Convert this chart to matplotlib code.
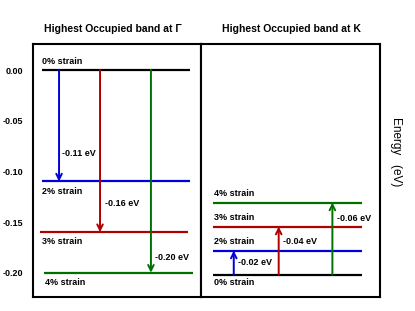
import matplotlib
matplotlib.use('Agg')
import matplotlib.pyplot as plt

plt.rcParams['font.family'] = ['Liberation Sans', 'DejaVu Sans']

# band energies (eV)
strain_labels = ['0% strain', '2% strain', '3% strain', '4% strain']
gamma_energy = [0.00, -0.11, -0.16, -0.20]
k_energy = [0.00, 0.02, 0.04, 0.06]
shift_labels_gamma = ['-0.11 eV', '-0.16 eV', '-0.20 eV']
shift_labels_k = ['-0.02 eV', '-0.04 eV', '-0.06 eV']
yticks = [0.00, -0.05, -0.10, -0.15, -0.20]

colors = ['black', '#0000dd', '#b00000', '#007000']

fig = plt.figure(figsize=(4.15, 3.11), dpi=100)
axL = fig.add_axes([33/415, 14/311, 168/415, 253/311])
axR = fig.add_axes([201/415, 14/311, 179/415, 253/311])

# ---- Gamma panel
axL.set_xlim(0, 1)
axL.set_ylim(-0.224, 0.0257)
line_x = [(0.054, 0.935), (0.052, 0.935), (0.042, 0.923), (0.065, 0.952)]
for (x0, x1), e, c in zip(line_x, gamma_energy, colors):
    axL.plot([x0, x1], [e, e], color=c, lw=1.6, solid_capstyle='butt')
# strain labels: 0% above line, others below
axL.text(0.054, gamma_energy[0] + 0.004, strain_labels[0], fontsize=6.5, fontweight='bold', va='bottom')
lab_x = [0.054, 0.054, 0.07]
for i in range(1, 4):
    axL.text(lab_x[i-1], gamma_energy[i] - 0.005, strain_labels[i], fontsize=6.5, fontweight='bold', va='top')
arrow_x = [0.155, 0.399, 0.702]
text_pos = [(0.173, -0.0825), (0.429, -0.132), (0.726, -0.185)]
for i in range(3):
    axL.annotate('', xy=(arrow_x[i], gamma_energy[i+1]), xytext=(arrow_x[i], gamma_energy[0]),
                 arrowprops=dict(arrowstyle='->', color=colors[i+1], lw=1.4, shrinkA=0, shrinkB=0))
    axL.text(text_pos[i][0], text_pos[i][1], shift_labels_gamma[i], fontsize=6.5, fontweight='bold', va='center')
axL.set_yticks(yticks)
axL.set_yticklabels(['%.2f' % v for v in yticks], fontsize=6.5, fontweight='bold')
axL.tick_params(axis='y', length=0, pad=7)
axL.set_xticks([])

# ---- K panel
axR.set_xlim(0, 1)
axR.set_ylim(-0.0186, 0.192)
for e, c in zip(k_energy, colors):
    axR.plot([0.067, 0.899], [e, e], color=c, lw=1.6, solid_capstyle='butt')
axR.text(0.073, k_energy[0] - 0.0025, strain_labels[0], fontsize=6.5, fontweight='bold', va='top')
for i in range(1, 4):
    axR.text(0.073, k_energy[i] + 0.004, strain_labels[i], fontsize=6.5, fontweight='bold', va='bottom')
arrow_xk = [0.183, 0.434, 0.734]
text_posk = [(0.208, 0.0098), (0.456, 0.0275), (0.758, 0.0464)]
for i in range(3):
    axR.annotate('', xy=(arrow_xk[i], k_energy[i+1]), xytext=(arrow_xk[i], k_energy[0]),
                 arrowprops=dict(arrowstyle='->', color=colors[i+1], lw=1.4, shrinkA=0, shrinkB=0))
    axR.text(text_posk[i][0], text_posk[i][1], shift_labels_k[i], fontsize=6.5, fontweight='bold', va='center')
axR.set_xticks([])
axR.set_yticks([])

for ax in (axL, axR):
    for s in ax.spines.values():
        s.set_linewidth(1.5)

fig.text(113/415, 1 - 29/311, 'Highest Occupied band at Γ', fontsize=7.5, fontweight='bold', ha='center', va='center')
fig.text(291/415, 1 - 29/311, 'Highest Occupied band at K', fontsize=7.5, fontweight='bold', ha='center', va='center')
fig.text(396/415, 1 - 152/311, 'Energy   (eV)', fontsize=8.5, rotation=270, ha='center', va='center')

fig.savefig('out.png', dpi=100)
